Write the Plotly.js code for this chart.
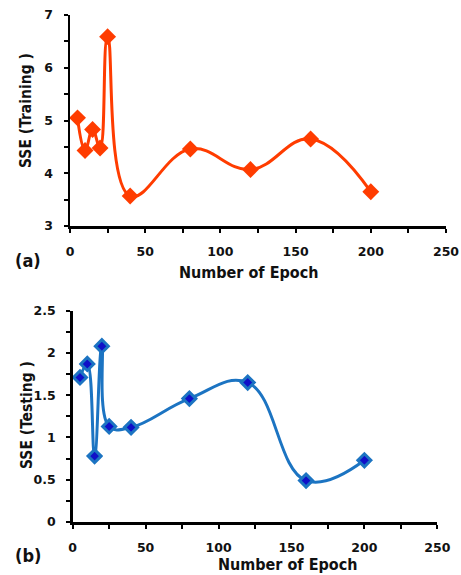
<!DOCTYPE html>
<html><head><meta charset="utf-8">
<script src="https://cdn.plot.ly/plotly-3.0.1.min.js"></script>
<style>html,body{margin:0;padding:0;background:#fff;}#chart{width:461px;height:575px;}</style>
</head><body><div id="chart"></div>
<script>
const epochs = [5, 10, 15, 20, 25, 40, 80, 120, 160, 200];
const sseTraining = [5.05, 4.43, 4.83, 4.48, 6.59, 3.57, 4.46, 4.07, 4.65, 3.65];
const sseTesting = [1.71, 1.87, 0.78, 2.08, 1.13, 1.12, 1.46, 1.65, 0.49, 0.73];
const xTickVals = [0, 50, 100, 150, 200, 250];
const yTrainTicks = [3, 4, 5, 6, 7];
const yTestTicks = [0, 0.5, 1, 1.5, 2, 2.5];
const yTestLabels = ['0', '0.5', '1', '1.5', '2', '2.5'];

const F = 'DejaVu Sans, Verdana, sans-serif';
const FC = 'DejaVu Sans Condensed, DejaVu Sans, sans-serif';
const tickFont = {family: F, size: 12.5, color: '#111', weight: 'bold'};

const traces = [
  {x: epochs, y: sseTraining, xaxis: 'x', yaxis: 'y', type: 'scatter', mode: 'lines+markers',
   line: {color: '#ff3c00', width: 3, shape: 'spline', smoothing: 1.2},
   marker: {symbol: 'diamond', size: 13, color: '#ff3c00'}},
  {x: epochs, y: sseTesting, xaxis: 'x2', yaxis: 'y2', type: 'scatter', mode: 'lines+markers',
   line: {color: '#1c74c2', width: 3, shape: 'spline', smoothing: 1.2},
   marker: {symbol: 'diamond', size: 10, color: '#1010c8', line: {color: '#1c74c2', width: 3}}}
];

function xax(domain, anchor) {
  return {domain: domain, anchor: anchor, range: [0, 250], tickvals: xTickVals,
    ticks: 'outside', ticklen: 4, tickwidth: 2, tickcolor: '#000',
    minor: {dtick: 25, tick0: 0, ticks: 'outside', ticklen: 4, tickwidth: 2, tickcolor: '#000'},
    showline: true, linecolor: '#000', linewidth: 2.5, showgrid: false, zeroline: false,
    tickfont: tickFont, ticklabelstandoff: 8, fixedrange: true};
}
function yax(domain, anchor, range, vals, labels, minorD) {
  return {domain: domain, anchor: anchor, range: range, tickvals: vals, ticktext: labels,
    ticks: 'outside', ticklen: 4, tickwidth: 2, tickcolor: '#000',
    minor: {dtick: minorD, tick0: range[0], ticks: 'outside', ticklen: 4, tickwidth: 2, tickcolor: '#000'},
    showline: true, linecolor: '#000', linewidth: 2.5, showgrid: false, zeroline: false,
    tickfont: tickFont, ticklabelstandoff: 8, fixedrange: true};
}

function ann(text, x, y, size, angle, fam) {
  return {text: text, xref: 'paper', yref: 'paper', x: x/461, y: 1-y/575,
    xanchor: 'center', yanchor: 'middle', textangle: angle || 0, showarrow: false,
    font: {family: fam || FC, size: size, color: '#111', weight: 'bold'}};
}

const layout = {
  width: 461, height: 575, margin: {l: 0, r: 0, t: 0, b: 0},
  paper_bgcolor: '#fff', plot_bgcolor: '#fff', showlegend: false,
  xaxis: xax([70/461, 446/461], 'y'),
  yaxis: yax([1-226/575, 1-15/575], 'x', [3, 7], yTrainTicks, yTrainTicks.map(String), 0.5),
  xaxis2: xax([72.7/461, 437.3/461], 'y2'),
  yaxis2: yax([1-522/575, 1-310.7/575], 'x2', [0, 2.5], yTestTicks, yTestLabels, 0.25),
  annotations: [
    ann('SSE (Training )', 26, 111, 15.5, -90),
    ann('SSE (Testing )', 27, 415, 15.5, -90),
    ann('Number of Epoch', 249, 272, 16),
    ann('Number of Epoch', 287, 564, 16),
    ann('(a)', 28, 260, 18),
    ann('(b)', 28, 555, 18)
  ]
};

Plotly.newPlot('chart', traces, layout, {displayModeBar: false, staticPlot: true});
</script></body></html>
